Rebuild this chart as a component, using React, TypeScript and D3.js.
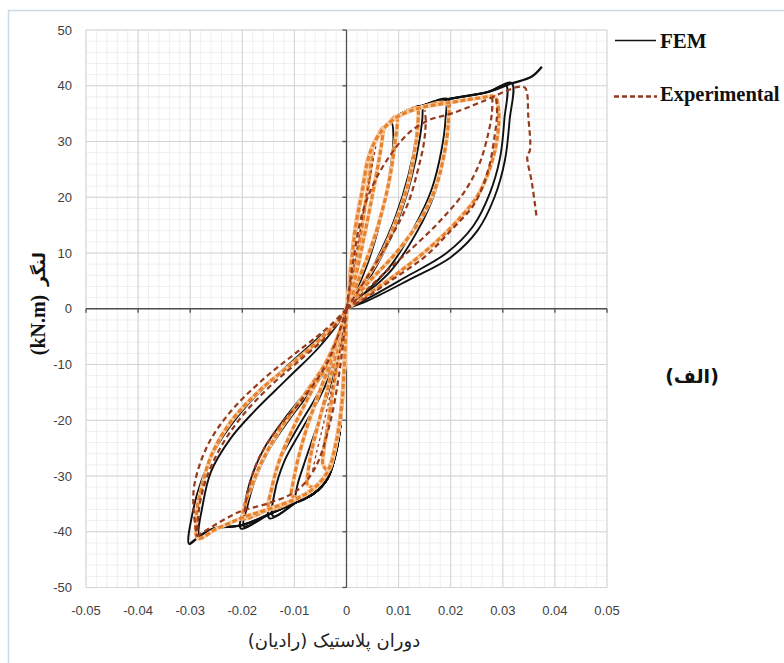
import React from "react";
import * as d3 from "d3";

type Pt = [number, number];

// Axis ticks
const xTicks = [-0.05, -0.04, -0.03, -0.02, -0.01, 0, 0.01, 0.02, 0.03, 0.04, 0.05];
const yTicks = [-50, -40, -30, -20, -10, 0, 10, 20, 30, 40, 50];

// FEM envelope (rotation, moment)
const femBackbonePos: Pt[] = [[0, 0], [0.0008, 7], [0.0017, 14], [0.003, 21], [0.0045, 28], [0.0058, 30.8], [0.008, 33.2], [0.0105, 35], [0.0145, 36.4], [0.0195, 37.6], [0.0272, 38.9], [0.0316, 40.4], [0.0355, 41.6], [0.0375, 43.4]];
const femBackboneNeg: Pt[] = [[0, 0], [-0.0003, -8.3], [-0.0008, -17.2], [-0.0017, -24.4], [-0.0036, -30.4], [-0.0062, -33.1], [-0.0094, -34.6], [-0.0145, -36.7], [-0.02, -38.8], [-0.0254, -39.4], [-0.0279, -40.6], [-0.0301, -42.2]];

// FEM reloading branches, origin -> peak
const femPosA: Pt[] = [[0, 0], [0.002, 3.5], [0.004, 8], [0.006, 14], [0.0077, 21], [0.0087, 27], [0.009, 31], [0.0086, 33.4]];
const femPosB: Pt[] = [[0, 0], [0.0027, 3.6], [0.0063, 9.8], [0.0094, 16.5], [0.0119, 24], [0.0134, 31], [0.0138, 35.3], [0.0137, 36.2]];
const femPosC: Pt[] = [[0, 0], [0.0029, 3.3], [0.0067, 9.3], [0.0099, 15.9], [0.0125, 23.6], [0.0141, 30.8], [0.0146, 35], [0.0144, 36.4]];
const femPosD: Pt[] = [[0, 0], [0.003, 2.4], [0.0083, 7.5], [0.0131, 14.8], [0.0163, 21.3], [0.0182, 28.3], [0.019, 34], [0.0189, 37.4]];
const femPosE: Pt[] = [[0, 0], [0.0029, 2.1], [0.0086, 6.9], [0.0137, 14.1], [0.0169, 20.7], [0.0188, 27.8], [0.0196, 33.8], [0.0195, 37.6]];
const femPosF: Pt[] = [[0, 0], [0.004, 1.8], [0.0112, 5.6], [0.0192, 10], [0.0243, 14.8], [0.0275, 20.7], [0.0295, 27.2], [0.0303, 34], [0.0306, 40.1]];
const femPosG: Pt[] = [[0, 0], [0.0042, 1.5], [0.0118, 5.1], [0.0201, 9.3], [0.0252, 14.1], [0.0284, 20], [0.0304, 26.6], [0.0313, 33.8], [0.0317, 40.5]];

const femNegA: Pt[] = [[0, 0], [-0.0015, -8], [-0.0035, -15], [-0.006, -22], [-0.0082, -28], [-0.0095, -32], [-0.0097, -34.6]];
const femNegB: Pt[] = [[0, 0], [-0.0022, -9.4], [-0.0052, -16], [-0.0088, -22], [-0.0119, -27.3], [-0.0138, -33], [-0.0141, -37.2]];
const femNegC: Pt[] = [[0, 0], [-0.0024, -8.9], [-0.0056, -15.4], [-0.0094, -21.4], [-0.0126, -26.8], [-0.0145, -32.8], [-0.0148, -37.6]];
const femNegD: Pt[] = [[0, 0], [-0.0022, -8], [-0.0058, -13.5], [-0.0107, -19.5], [-0.015, -25.5], [-0.0176, -30.8], [-0.019, -35.4], [-0.0197, -39]];
const femNegE: Pt[] = [[0, 0], [-0.0024, -7.7], [-0.0062, -13], [-0.0113, -19], [-0.0158, -25], [-0.0183, -30.4], [-0.0196, -35.2], [-0.0203, -39.4]];
const femNegF: Pt[] = [[0, 0], [-0.0049, -6.5], [-0.0113, -12.5], [-0.0177, -18.4], [-0.0222, -23.2], [-0.026, -29.2], [-0.0276, -35.2], [-0.0282, -40.8]];
const femNegG: Pt[] = [[0, 0], [-0.0017, -2.3], [-0.0062, -5.9], [-0.0126, -11.3], [-0.019, -17.2], [-0.0247, -24.4], [-0.0279, -31], [-0.0295, -36.4], [-0.0302, -42.2]];

// Experimental, early cycles (orange)
const expBackbonePos: Pt[] = [[0, 0], [0.0009, 8], [0.0018, 15], [0.003, 21], [0.0042, 27], [0.0058, 30.6], [0.0078, 33], [0.0105, 34.8], [0.014, 36], [0.02, 37], [0.0255, 37.8], [0.0285, 38]];
const expBackboneNeg: Pt[] = [[0, 0], [-0.0004, -10], [-0.001, -18], [-0.002, -24], [-0.0035, -29], [-0.006, -32], [-0.009, -33.8], [-0.0145, -35.8], [-0.02, -37.5], [-0.025, -39.5], [-0.0285, -41.2]];

const expPosA: Pt[] = [[0, 0], [0.0014, 6], [0.0027, 13], [0.0038, 20], [0.0046, 25], [0.0049, 29]];
const expPosB: Pt[] = [[0, 0], [0.0018, 6], [0.0034, 13], [0.0049, 20], [0.0061, 26], [0.0068, 30], [0.007, 32.5]];
const expPosC: Pt[] = [[0, 0], [0.0022, 5], [0.0047, 11], [0.0067, 17], [0.0082, 23], [0.0092, 29], [0.0096, 34.5]];
const expPosD: Pt[] = [[0, 0], [0.0035, 5], [0.0068, 10], [0.0098, 16.5], [0.012, 23], [0.0132, 29], [0.0137, 33], [0.0135, 36]];
const expPosE: Pt[] = [[0, 0], [0.004, 4.5], [0.0095, 10], [0.0142, 16], [0.0172, 22], [0.0188, 28], [0.0195, 33], [0.0193, 36.8]];
const expPosF: Pt[] = [[0, 0], [0.004, 2.5], [0.01, 6.5], [0.016, 11], [0.021, 15.5], [0.0253, 20.5], [0.0278, 26], [0.029, 31], [0.0292, 35.5], [0.0285, 38]];

const expNegA: Pt[] = [[0, 0], [-0.0012, -7], [-0.0025, -14], [-0.0036, -21], [-0.0043, -25], [-0.0045, -28]];
const expNegB: Pt[] = [[0, 0], [-0.002, -8], [-0.0038, -15], [-0.0055, -21], [-0.0068, -26], [-0.0074, -29.5], [-0.0075, -31.5]];
const expNegC: Pt[] = [[0, 0], [-0.0025, -8], [-0.0052, -15], [-0.0075, -21], [-0.0093, -27], [-0.0102, -31], [-0.0105, -33.5]];
const expNegD: Pt[] = [[0, 0], [-0.003, -8.5], [-0.0068, -15], [-0.0103, -21.5], [-0.0128, -27], [-0.0143, -32], [-0.0148, -35.8]];
const expNegE: Pt[] = [[0, 0], [-0.0036, -9], [-0.0085, -16], [-0.013, -22], [-0.0163, -27.5], [-0.0185, -32.5], [-0.0196, -35.5], [-0.0198, -37.6]];
const expNegF: Pt[] = [[0, 0], [-0.004, -4.5], [-0.01, -9.5], [-0.0165, -14.5], [-0.022, -20], [-0.0258, -26], [-0.0278, -32], [-0.0288, -37], [-0.0285, -41.2]];

// Experimental, late cycles and failure (dark brown)
const expLastPos: Pt[] = [[0, 0], [0.0012, 8], [0.003, 17], [0.0055, 23], [0.0086, 27.8], [0.0118, 31.4], [0.0157, 33.8], [0.0201, 35], [0.0259, 37.1], [0.033, 39.8], [0.0343, 39.6], [0.0349, 34.4], [0.0352, 28.4], [0.0347, 27.5], [0.0356, 22.5], [0.0365, 16.4]];
const expPosOuter: Pt[] = [[0, 0], [0.0029, 1.5], [0.0086, 5.1], [0.015, 9.3], [0.0201, 14.1], [0.0246, 18.9], [0.0272, 24.9], [0.0284, 30.8], [0.0289, 35], [0.0287, 38]];
const expPosInner: Pt[] = [[0, 0], [0.0025, 2.2], [0.0075, 6.6], [0.013, 11.2], [0.018, 15.8], [0.0225, 20.8], [0.0255, 26], [0.0271, 31], [0.0279, 35], [0.028, 38]];
const expPosMid: Pt[] = [[0, 0], [0.0048, 6.9], [0.0086, 12.9], [0.0118, 18.9], [0.0137, 24.9], [0.0149, 30], [0.0152, 34], [0.015, 35.6]];
const expPosSmall: Pt[] = [[0, 0], [0.0015, 8], [0.0028, 15], [0.004, 21], [0.005, 26], [0.0057, 29.5]];
const expNegOuter: Pt[] = [[0, 0], [-0.003, -2.9], [-0.0094, -7.7], [-0.0158, -12.5], [-0.0222, -18.4], [-0.0266, -24.4], [-0.0292, -31.6], [-0.0293, -36.5], [-0.0287, -40.8]];
const expNegInner: Pt[] = [[0, 0], [-0.0035, -4.6], [-0.0094, -9.6], [-0.015, -14.2], [-0.02, -19.2], [-0.024, -24.6], [-0.0268, -30.2], [-0.0282, -35.2], [-0.0287, -40.8]];
const expLastNeg: Pt[] = [[-0.0287, -40.8], [-0.021, -36.6], [-0.0147, -34.8], [-0.0095, -32.6], [-0.006, -28.5], [-0.0033, -21], [-0.0013, -11], [0, 0]];
const expNegMid: Pt[] = [[0, 0], [-0.0036, -9.5], [-0.0088, -16.6], [-0.0132, -21.4], [-0.0171, -27.4], [-0.019, -33], [-0.0196, -37.2]];
const expNegSmall: Pt[] = [[0, 0], [-0.0014, -8], [-0.003, -15], [-0.0045, -21], [-0.0058, -26], [-0.0066, -29.5]];

// A full cycle: reload to the positive peak, return along the envelope,
// reload to the negative peak, return along the envelope.
function cycle(pos: Pt[], neg: Pt[], envPos: Pt[], envNeg: Pt[]): Pt[] {
  const pPeak = pos[pos.length - 1];
  const nPeak = neg[neg.length - 1];
  const backP = envPos.filter((p) => p[0] > 0 && p[0] < pPeak[0] - 0.0008).reverse();
  const backN = envNeg.filter((p) => p[0] < 0 && p[0] > nPeak[0] + 0.0008).reverse();
  return [...pos, ...backP, [0, 0], ...neg.slice(1), ...backN, [0, 0]];
}

const W = 784;
const H = 663;

export default function App() {
  const x = d3.scaleLinear().domain([-0.05, 0.05]).range([86, 607]);
  const y = d3.scaleLinear().domain([-50, 50]).range([587.5, 30]);
  const line = d3
    .line<Pt>()
    .x((d) => x(d[0]))
    .y((d) => y(d[1]))
    .curve(d3.curveCatmullRom.alpha(0.5));

  const femCycles = [
    cycle(femPosA, femNegA, femBackbonePos, femBackboneNeg),
    cycle(femPosB, femNegB, femBackbonePos, femBackboneNeg),
    cycle(femPosC, femNegC, femBackbonePos, femBackboneNeg),
    cycle(femPosD, femNegD, femBackbonePos, femBackboneNeg),
    cycle(femPosE, femNegE, femBackbonePos, femBackboneNeg),
    cycle(femPosF, femNegF, femBackbonePos, femBackboneNeg),
    cycle(femPosG, femNegG, femBackbonePos, femBackboneNeg),
  ];
  const expCycles = [
    cycle(expPosA, expNegA, expBackbonePos, expBackboneNeg),
    cycle(expPosB, expNegB, expBackbonePos, expBackboneNeg),
    cycle(expPosC, expNegC, expBackbonePos, expBackboneNeg),
    cycle(expPosD, expNegD, expBackbonePos, expBackboneNeg),
    cycle(expPosE, expNegE, expBackbonePos, expBackboneNeg),
    cycle(expPosF, expNegF, expBackbonePos, expBackboneNeg),
  ];
  const expLate = [expPosOuter, expPosInner, expPosMid, expNegOuter, expNegInner, expNegMid, expLastNeg, expLastPos];

  const minorX = x.ticks(50);
  const minorY = y.ticks(50);
  const brown = "#953a1c";
  const orange = "#e8812c";
  const fmt = (v: number) => (v === 0 ? "0" : v.toFixed(2));

  return (
    <svg width={W} height={H} style={{ position: "absolute", left: 0, top: 0, display: "block" }}>
      <rect x={0} y={0} width={W} height={H} fill="#ffffff" />
      <rect x={8.5} y={10.5} width={W + 20} height={H + 20} fill="#ffffff" stroke="#cddae6" strokeWidth={1.5} />

      {/* grid */}
      <g>
        {minorX.map((v) => (
          <line key={"mx" + v} x1={x(v)} x2={x(v)} y1={y(50)} y2={y(-50)} stroke="#ebebeb" strokeWidth={0.8} />
        ))}
        {minorY.map((v) => (
          <line key={"my" + v} x1={x(-0.05)} x2={x(0.05)} y1={y(v)} y2={y(v)} stroke="#ebebeb" strokeWidth={0.8} />
        ))}
        {xTicks.map((v) => (
          <line key={"gx" + v} x1={x(v)} x2={x(v)} y1={y(50)} y2={y(-50)} stroke="#d4d4d4" strokeWidth={1} />
        ))}
        {yTicks.map((v) => (
          <line key={"gy" + v} x1={x(-0.05)} x2={x(0.05)} y1={y(v)} y2={y(v)} stroke="#d4d4d4" strokeWidth={1} />
        ))}
      </g>

      {/* axes through the origin */}
      <g stroke="#505050" strokeWidth={1.3}>
        <line x1={x(0)} x2={x(0)} y1={y(50)} y2={y(-50)} />
        <line x1={x(-0.05)} x2={x(0.05)} y1={y(0)} y2={y(0)} />
        {yTicks.map((v) => (
          <line key={"ty" + v} x1={x(0) - 4} x2={x(0)} y1={y(v)} y2={y(v)} />
        ))}
        {xTicks.map((v) => (
          <line key={"tx" + v} x1={x(v)} x2={x(v)} y1={y(0)} y2={y(0) + 4} />
        ))}
      </g>

      {/* tick labels */}
      <g fontFamily="'Liberation Sans', Arial, sans-serif" fontSize={13} fill="#404040">
        {yTicks.map((v) => (
          <text key={"ly" + v} x={72} y={y(v)} dy="0.35em" textAnchor="end">
            {v}
          </text>
        ))}
        {xTicks.map((v) => (
          <text key={"lx" + v} x={x(v)} y={615} textAnchor="middle">
            {fmt(v)}
          </text>
        ))}
      </g>

      {/* FEM */}
      <g fill="none" stroke="#111111" strokeWidth={1.9} strokeLinejoin="round">
        {femCycles.map((c, i) => (
          <path key={"f" + i} d={line(c) ?? ""} />
        ))}
        <path d={line(femBackbonePos) ?? ""} strokeWidth={2.3} />
        <path d={line(femBackboneNeg) ?? ""} strokeWidth={2.3} />
      </g>

      {/* Experimental, early cycles */}
      <g fill="none" strokeLinejoin="round">
        {expCycles.map((c, i) => (
          <g key={"o" + i}>
            <path d={line(c) ?? ""} stroke="#f6cda6" strokeWidth={4} />
            <path d={line(c) ?? ""} stroke={orange} strokeWidth={3.1} strokeDasharray="5 2.5" />
          </g>
        ))}
      </g>

      {/* Experimental, late cycles */}
      <g fill="none" stroke={brown} strokeWidth={2.2} strokeDasharray="5.5 3.5" strokeLinejoin="round">
        {expLate.map((c, i) => (
          <path key={"b" + i} d={line(c) ?? ""} />
        ))}
        <path d={line(expPosSmall) ?? ""} strokeWidth={1.3} strokeDasharray="3 3" />
        <path d={line(expNegSmall) ?? ""} strokeWidth={1.3} strokeDasharray="3 3" />
      </g>

      {/* legend */}
      <line x1={615} x2={656} y1={40.5} y2={40.5} stroke="#111111" strokeWidth={1.6} />
      <text x={660} y={48} fontFamily="'Liberation Serif', 'Times New Roman', serif" fontWeight="bold" fontSize={21} fill="#111111">
        FEM
      </text>
      <line x1={614} x2={657} y1={96.5} y2={96.5} stroke={brown} strokeWidth={2.4} strokeDasharray="5 3" />
      <text x={660} y={101} fontFamily="'Liberation Serif', 'Times New Roman', serif" fontWeight="bold" fontSize={20.5} fill="#111111">
        Experimental
      </text>

      {/* panel tag */}
      <text x={692} y={383} direction="rtl" textAnchor="middle" fontFamily="'DejaVu Sans', sans-serif" fontWeight="bold" fontSize={19} fill="#111111">
        (الف)
      </text>

      {/* axis titles */}
      <text x={334} y={647} direction="rtl" textAnchor="middle" fontFamily="'DejaVu Sans', sans-serif" fontSize={18} fill="#222222">
        دوران پلاستیک (رادیان)
      </text>
      <g transform="translate(38,306) rotate(-90)">
        <text x={-19} y={7} textAnchor="middle" fontFamily="'Liberation Serif', 'Times New Roman', serif" fontWeight="bold" fontSize={20} fill="#111111">
          (kN.m)
        </text>
        <text x={37} y={7} direction="rtl" textAnchor="middle" fontFamily="'DejaVu Sans', sans-serif" fontWeight="bold" fontSize={17} fill="#111111">
          لنگر
        </text>
      </g>
    </svg>
  );
}
